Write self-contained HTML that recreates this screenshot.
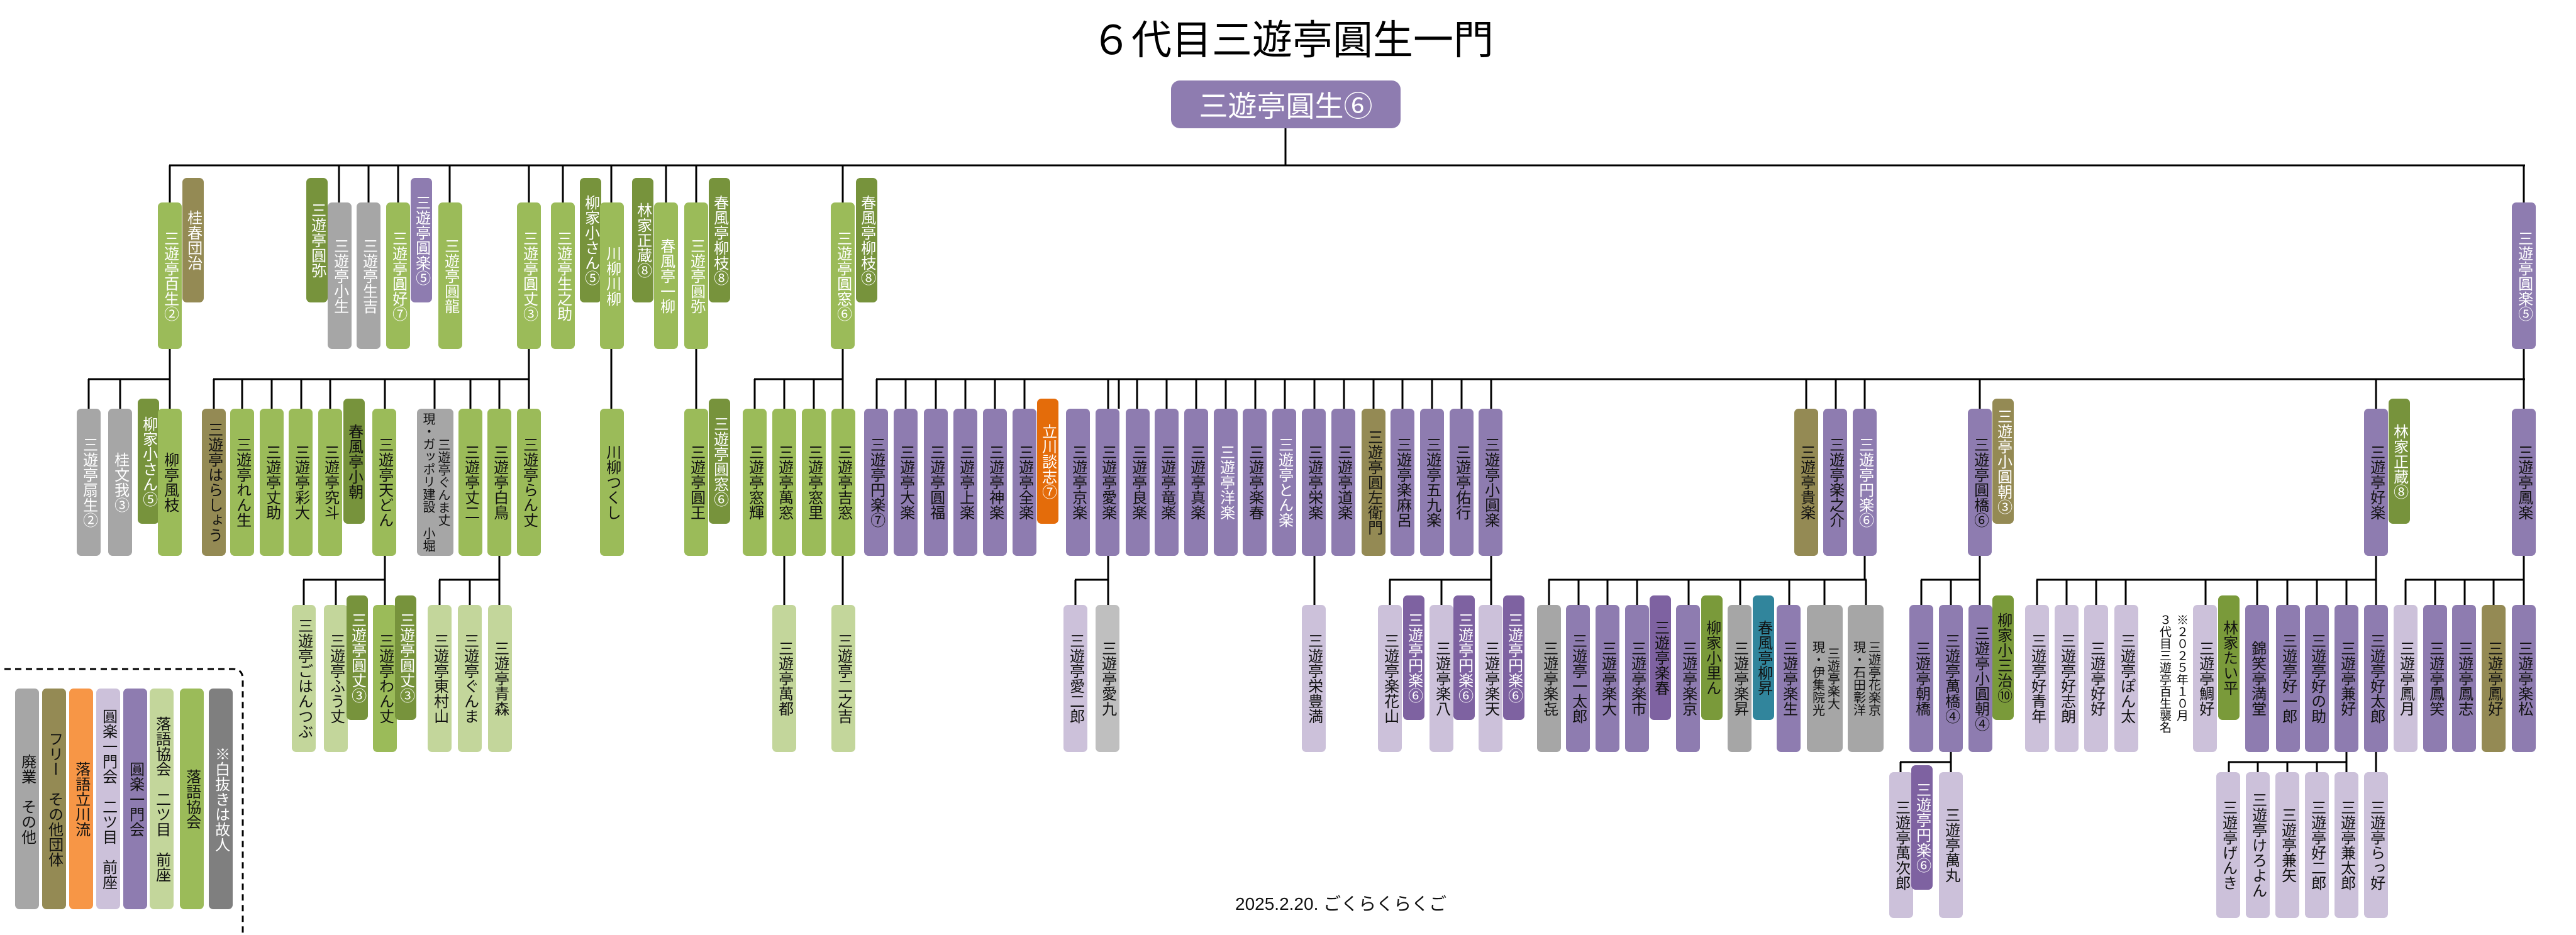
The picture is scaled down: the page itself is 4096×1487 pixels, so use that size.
<!DOCTYPE html>
<html><head><meta charset="utf-8">
<style>
html,body{margin:0;padding:0;background:#fff;width:4096px;height:1487px;overflow:hidden;}
#c{position:relative;width:4096px;height:1487px;overflow:hidden;background:#fff;font-family:"Liberation Sans","Noto Sans CJK JP",sans-serif;}
.b{position:absolute;width:38px;border-radius:7px;writing-mode:vertical-rl;text-orientation:upright;display:flex;align-items:center;justify-content:center;font-size:24px;line-height:1.05;color:#111;text-align:center;white-space:nowrap;box-sizing:border-box;}
.s{font-size:20px;line-height:1.2;}
.w{color:#fff;}
.o{width:34px;}
.L1{top:322px;height:233px}.O1{top:283px;height:198px}
.L2{top:650px;height:234px}.O2{top:634px;height:199px}
.L3{top:962px;height:234px}.O3{top:947px;height:198px}
.L4{top:1228px;height:232px}.O4{top:1217px;height:198px}
.g{background:#9bbb59}.lg{background:#c3d69b}.dg{background:#77933c}.ol{background:#948a54}
.p{background:#8e7cb0}.dp{background:#7e62a1}.lp{background:#ccc1da}.gy{background:#a6a6a6}
.lgy{background:#bfbfbf}.or{background:#e46c0a}.tl{background:#31859c}.lo{background:#f79646}.dgy{background:#7f7f7f}
svg{position:absolute;left:0;top:0}
</style></head><body><div id="c">
<svg width="4096" height="1487" stroke="#000" stroke-width="3" fill="none">
<path d="M2044 204V263M269 263H4015"/>
<path d="M270 263V322M539 263V322M586 263V322M633 263V322M715 263V322M841 263V322M895 263V322M972 263V322M1059 263V322M1107 263V322M1340 263V322M4013 263V322"/>
<path d="M270 555V603M140 603H271M841 555V603M339 603H842M972 555V650M1107 555V650M1340 555V603M1199 603H1341M4013 555V603M1393 603H4015"/>
<path d="M141 603V650M191 603V650M270 603V650M340 603V650M385 603V650M432 603V650M479 603V650M525 603V650M612 603V650M691 603V650M748 603V650M794 603V650M841 603V650M1200 603V650M1247 603V650M1294 603V650M1340 603V650M1394 603V650M1440 603V650M1488 603V650M1535 603V650M1582 603V650M1629 603V650M1762 603V650M1779 603V650M1808 603V650M1855 603V650M1902 603V650M1949 603V650M1996 603V650M2043 603V650M2090 603V650M2137 603V650M2184 603V650M2230 603V650M2277 603V650M2324 603V650M2371 603V650M2872 603V650M2919 603V650M2965 603V650M3148 603V650M3778 603V650M4013 603V650"/>
<path d="M612 884V922M482 922H613M794 884V922M698 922H795M1247 884V962M1340 884V962M1762 884V922M1709 922H1763M2090 884V962M2371 884V922M2209 922H2372M2965 884V922M2462 922H2968M3148 884V922M3054 922H3149M3778 884V922M3238 922H3779M4013 884V922M3824 922H4014"/>
<path d="M483 922V962M534 922V962M612 922V962M699 922V962M747 922V962M794 922V962M1710 922V962M1762 922V962M2210 922V962M2292 922V962M2371 922V962M2463 922V962M2510 922V962M2556 922V962M2603 922V962M2685 922V962M2767 922V962M2845 922V962M2901 922V962M2967 922V962M3055 922V962M3102 922V962M3148 922V962M3239 922V962M3286 922V962M3333 922V962M3380 922V962M3507 922V962M3589 922V962M3637 922V962M3684 922V962M3731 922V962M3778 922V962M3825 922V962M3872 922V962M3919 922V962M3965 922V962M4013 922V962"/>
<path d="M3102 1196V1212M3021 1212H3103M3731 1196V1212M3543 1212H3732M3778 1196V1228"/>
<path d="M3022 1212V1228M3102 1212V1228M3544 1212V1228M3590 1212V1228M3637 1212V1228M3684 1212V1228M3731 1212V1228"/>
<path d="M-10 1064H370Q386 1064 386 1080V1487" stroke-dasharray="10 7"/>
</svg>
<div style="position:absolute;left:1700px;top:24px;width:710px;text-align:center;font-size:64px;line-height:80px;color:#000;">６代目三遊亭圓生一門</div>
<div style="position:absolute;left:1862px;top:128px;width:365px;height:76px;border-radius:14px;background:#8e7cb0;color:#fff;font-size:46px;display:flex;align-items:center;justify-content:center;">三遊亭圓生⑥</div>

<!-- L1 -->
<div class="b L1 g w" style="left:251px">三遊亭百生②</div>
<div class="b O1 o ol w" style="left:290px">桂春団治</div>
<div class="b O1 o dg w" style="left:487px">三遊亭圓弥</div>
<div class="b L1 gy w" style="left:521px">三遊亭小生</div>
<div class="b L1 gy w" style="left:567px">三遊亭生吉</div>
<div class="b L1 g w" style="left:614px">三遊亭圓好⑦</div>
<div class="b O1 o p w" style="left:653px">三遊亭圓楽⑤</div>
<div class="b L1 g w" style="left:697px">三遊亭圓龍</div>
<div class="b L1 g w" style="left:822px">三遊亭圓丈③</div>
<div class="b L1 g w" style="left:876px">三遊亭生之助</div>
<div class="b O1 o dg w" style="left:922px">柳家小さん⑤</div>
<div class="b L1 g w" style="left:954px">川柳川柳</div>
<div class="b O1 o dg w" style="left:1005px">林家正蔵⑧</div>
<div class="b L1 g w" style="left:1040px">春風亭一柳</div>
<div class="b L1 g w" style="left:1088px">三遊亭圓弥</div>
<div class="b O1 o dg w" style="left:1127px">春風亭柳枝⑧</div>
<div class="b L1 g w" style="left:1321px">三遊亭圓窓⑥</div>
<div class="b O1 o dg w" style="left:1361px">春風亭柳枝⑧</div>
<div class="b L1 p w" style="left:3994px">三遊亭圓楽⑤</div>

<!-- L2 -->
<div class="b L2 gy w" style="left:122px">三遊亭扇生②</div>
<div class="b L2 gy w" style="left:172px">桂文我③</div>
<div class="b O2 o dg w" style="left:219px">柳家小さん⑤</div>
<div class="b L2 g" style="left:251px">柳亭風枝</div>
<div class="b L2 ol" style="left:321px">三遊亭はらしょう</div>
<div class="b L2 g" style="left:366px">三遊亭れん生</div>
<div class="b L2 g" style="left:413px">三遊亭丈助</div>
<div class="b L2 g" style="left:459px">三遊亭彩大</div>
<div class="b L2 g" style="left:506px">三遊亭究斗</div>
<div class="b O2 o dg" style="left:546px">春風亭小朝</div>
<div class="b L2 g" style="left:592px">三遊亭天どん</div>
<div class="b L2 gy s" style="left:663px;width:58px">三遊亭ぐんま丈<br>現・ガッポリ建設 小堀</div>
<div class="b L2 g" style="left:729px">三遊亭丈二</div>
<div class="b L2 g" style="left:775px">三遊亭白鳥</div>
<div class="b L2 g" style="left:822px">三遊亭らん丈</div>
<div class="b L2 g" style="left:954px">川柳つくし</div>
<div class="b L2 g" style="left:1088px">三遊亭圓王</div>
<div class="b O2 o dg w" style="left:1127px">三遊亭圓窓⑥</div>
<div class="b L2 g" style="left:1181px">三遊亭窓輝</div>
<div class="b L2 g" style="left:1228px">三遊亭萬窓</div>
<div class="b L2 g" style="left:1275px">三遊亭窓里</div>
<div class="b L2 g" style="left:1322px">三遊亭吉窓</div>
<div class="b L2 p" style="left:1374px">三遊亭円楽⑦</div>
<div class="b L2 p" style="left:1421px">三遊亭大楽</div>
<div class="b L2 p" style="left:1469px">三遊亭圓福</div>
<div class="b L2 p" style="left:1516px">三遊亭上楽</div>
<div class="b L2 p" style="left:1563px">三遊亭神楽</div>
<div class="b L2 p" style="left:1610px">三遊亭全楽</div>
<div class="b O2 o or w" style="left:1649px">立川談志⑦</div>
<div class="b L2 p" style="left:1695px">三遊亭京楽</div>
<div class="b L2 p" style="left:1742px">三遊亭愛楽</div>
<div class="b L2 p" style="left:1790px">三遊亭良楽</div>
<div class="b L2 p" style="left:1836px">三遊亭竜楽</div>
<div class="b L2 p" style="left:1883px">三遊亭真楽</div>
<div class="b L2 p w" style="left:1930px">三遊亭洋楽</div>
<div class="b L2 p" style="left:1976px">三遊亭楽春</div>
<div class="b L2 p w" style="left:2023px">三遊亭とん楽</div>
<div class="b L2 p" style="left:2070px">三遊亭栄楽</div>
<div class="b L2 p" style="left:2117px">三遊亭道楽</div>
<div class="b L2 ol" style="left:2165px">三遊亭圓左衛門</div>
<div class="b L2 p" style="left:2211px">三遊亭楽麻呂</div>
<div class="b L2 p" style="left:2258px">三遊亭五九楽</div>
<div class="b L2 p" style="left:2305px">三遊亭佑行</div>
<div class="b L2 p" style="left:2351px">三遊亭小圓楽</div>
<div class="b L2 ol" style="left:2853px">三遊亭貴楽</div>
<div class="b L2 p" style="left:2899px">三遊亭楽之介</div>
<div class="b L2 p w" style="left:2946px">三遊亭円楽⑥</div>
<div class="b L2 p" style="left:3129px">三遊亭圓橋⑥</div>
<div class="b O2 o ol w" style="left:3168px">三遊亭小圓朝③</div>
<div class="b L2 p" style="left:3759px">三遊亭好楽</div>
<div class="b O2 o dg w" style="left:3798px">林家正蔵⑧</div>
<div class="b L2 p" style="left:3994px">三遊亭鳳楽</div>

<!-- L3 -->
<div class="b L3 lg" style="left:464px">三遊亭ごはんつぶ</div>
<div class="b L3 lg" style="left:515px">三遊亭ふう丈</div>
<div class="b O3 o dg w" style="left:551px">三遊亭圓丈③</div>
<div class="b L3 g" style="left:593px">三遊亭わん丈</div>
<div class="b O3 o dg w" style="left:628px">三遊亭圓丈③</div>
<div class="b L3 lg" style="left:680px">三遊亭東村山</div>
<div class="b L3 lg" style="left:728px">三遊亭ぐんま</div>
<div class="b L3 lg" style="left:776px">三遊亭青森</div>
<div class="b L3 lg" style="left:1228px">三遊亭萬都</div>
<div class="b L3 lg" style="left:1322px">三遊亭二之吉</div>
<div class="b L3 lp" style="left:1691px">三遊亭愛二郎</div>
<div class="b L3 lgy" style="left:1742px">三遊亭愛九</div>
<div class="b L3 lp" style="left:2070px">三遊亭栄豊満</div>
<div class="b L3 lp" style="left:2191px">三遊亭楽花山</div>
<div class="b O3 o dp w" style="left:2231px">三遊亭円楽⑥</div>
<div class="b L3 lp" style="left:2273px">三遊亭楽八</div>
<div class="b O3 o dp w" style="left:2311px">三遊亭円楽⑥</div>
<div class="b L3 lp" style="left:2351px">三遊亭楽天</div>
<div class="b O3 o dp w" style="left:2390px">三遊亭円楽⑥</div>
<div class="b L3 gy" style="left:2444px">三遊亭楽㐂</div>
<div class="b L3 p" style="left:2490px">三遊亭一太郎</div>
<div class="b L3 p" style="left:2537px">三遊亭楽大</div>
<div class="b L3 p" style="left:2584px">三遊亭楽市</div>
<div class="b O3 o dp" style="left:2623px">三遊亭楽春</div>
<div class="b L3 p" style="left:2665px">三遊亭楽京</div>
<div class="b O3 o dg" style="left:2705px;background:#7a9a3a">柳家小里ん</div>
<div class="b L3 gy" style="left:2747px">三遊亭楽昇</div>
<div class="b O3 o tl" style="left:2787px">春風亭柳昇</div>
<div class="b L3 p" style="left:2825px">三遊亭楽生</div>
<div class="b L3 gy s" style="left:2873px;width:57px">三遊亭楽大<br>現・伊集院光</div>
<div class="b L3 gy s" style="left:2938px;width:57px">三遊亭花楽京<br>現・石田彰洋</div>
<div class="b L3 p" style="left:3036px">三遊亭朝橋</div>
<div class="b L3 p" style="left:3083px">三遊亭萬橋④</div>
<div class="b L3 p" style="left:3130px">三遊亭小圓朝④</div>
<div class="b O3 o dg" style="left:3168px;background:#7a9a3a">柳家小三治⑩</div>
<div class="b L3 lp" style="left:3220px">三遊亭好青年</div>
<div class="b L3 lp" style="left:3267px">三遊亭好志朗</div>
<div class="b L3 lp" style="left:3314px">三遊亭好好</div>
<div class="b L3 lp" style="left:3362px">三遊亭ぽん太</div>
<div style="position:absolute;left:3424px;top:976px;width:58px;height:240px;writing-mode:vertical-rl;text-orientation:upright;font-size:19px;line-height:27px;color:#111;white-space:nowrap;">※２０２５年１０月<br>３代目三遊亭百生襲名</div>
<div class="b L3 lp" style="left:3487px">三遊亭鯛好</div>
<div class="b O3 o dg" style="left:3527px;background:#7a9a3a">林家たい平</div>
<div class="b L3 p" style="left:3570px">錦笑亭満堂</div>
<div class="b L3 p" style="left:3619px">三遊亭好一郎</div>
<div class="b L3 p" style="left:3665px">三遊亭好の助</div>
<div class="b L3 p" style="left:3712px">三遊亭兼好</div>
<div class="b L3 p" style="left:3759px">三遊亭好太郎</div>
<div class="b L3 lp" style="left:3806px">三遊亭鳳月</div>
<div class="b L3 p" style="left:3853px">三遊亭鳳笑</div>
<div class="b L3 p" style="left:3899px">三遊亭鳳志</div>
<div class="b L3 ol" style="left:3946px">三遊亭鳳好</div>
<div class="b L3 p" style="left:3994px">三遊亭楽松</div>

<!-- L4 -->
<div class="b L4 lp" style="left:3004px">三遊亭萬次郎</div>
<div class="b O4 o dp w" style="left:3039px">三遊亭円楽⑥</div>
<div class="b L4 lp" style="left:3083px">三遊亭萬丸</div>
<div class="b L4 lp" style="left:3524px">三遊亭げんき</div>
<div class="b L4 lp" style="left:3571px">三遊亭けろよん</div>
<div class="b L4 lp" style="left:3618px">三遊亭兼矢</div>
<div class="b L4 lp" style="left:3665px">三遊亭好二郎</div>
<div class="b L4 lp" style="left:3712px">三遊亭兼太郎</div>
<div class="b L4 lp" style="left:3759px">三遊亭らっ好</div>

<!-- legend -->
<div class="b gy" style="left:24px;top:1095px;height:351px">廃業　その他</div>
<div class="b ol" style="left:67px;top:1095px;height:351px">フリー　その他団体</div>
<div class="b lo" style="left:110px;top:1095px;height:351px">落語立川流</div>
<div class="b lp" style="left:153px;top:1095px;height:351px">圓楽一門会　二ツ目　前座</div>
<div class="b p" style="left:196px;top:1095px;height:351px">圓楽一門会</div>
<div class="b lg" style="left:238px;top:1095px;height:351px">落語協会　二ツ目　前座</div>
<div class="b g" style="left:286px;top:1095px;height:351px">落語協会</div>
<div class="b dgy w" style="left:332px;top:1095px;height:351px">※白抜きは故人</div>

<div style="position:absolute;left:1964px;top:1420px;font-size:28px;line-height:36px;color:#111;white-space:nowrap;">2025.2.20. ごくらくらくご</div>
</div></body></html>
